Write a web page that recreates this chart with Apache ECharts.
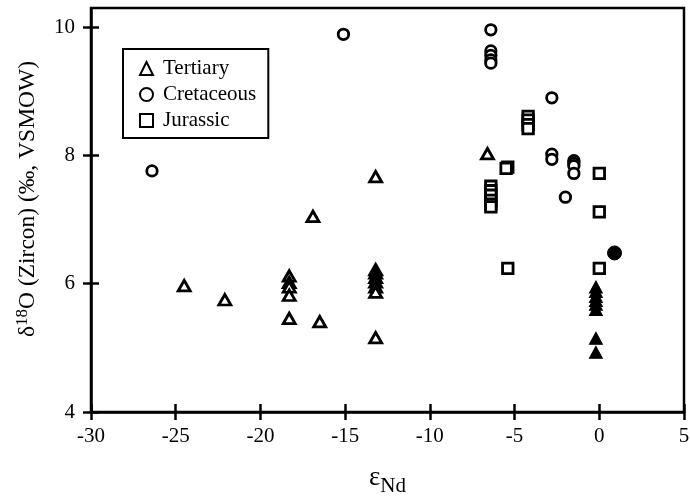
<!DOCTYPE html>
<html>
<head>
<meta charset="utf-8">
<script src="https://cdn.jsdelivr.net/npm/echarts@6/dist/echarts.min.js"></script>
<style>html,body{margin:0;padding:0;background:#fff;}#c{width:690px;height:497px;}</style>
</head>
<body>
<div id="c"></div>
<script>
// Data: [εNd, δ18O]
const tertiary = [
  [-24.5, 5.97], [-22.1, 5.75],
  [-18.3, 6.12], [-18.3, 6.02], [-18.3, 5.95], [-18.3, 5.82], [-18.3, 5.46],
  [-16.9, 7.05], [-16.5, 5.41],
  [-13.2, 7.67], [-13.2, 6.22], [-13.2, 6.17], [-13.2, 6.10], [-13.2, 6.03], [-13.2, 5.95], [-13.2, 5.87], [-13.2, 5.16],
  [-6.6, 8.03]
];
const cretaceous = [
  [-26.4, 7.76], [-15.1, 9.89],
  [-6.4, 9.96], [-6.4, 9.63], [-6.4, 9.56], [-6.4, 9.49], [-6.4, 9.44],
  [-2.8, 8.90], [-2.8, 8.02], [-2.8, 7.94],
  [-1.5, 7.92], [-1.5, 7.88], [-1.5, 7.84], [-1.5, 7.72],
  [-2.0, 7.35]
];
const jurassic = [
  [-6.4, 7.52], [-6.4, 7.45], [-6.4, 7.38], [-6.4, 7.30], [-6.4, 7.24], [-6.4, 7.20],
  [-5.4, 7.82], [-5.5, 7.80],
  [-4.2, 8.61], [-4.2, 8.55], [-4.2, 8.48], [-4.2, 8.42],
  [0, 7.72], [0, 7.12], [0, 6.24], [-5.4, 6.24]
];
const tertiaryFilled = [
  [-0.2, 5.95], [-0.2, 5.88], [-0.2, 5.80], [-0.2, 5.74], [-0.2, 5.68], [-0.2, 5.60],
  [-0.2, 5.15], [-0.2, 4.93]
];
const cretaceousFilled = [[0.9, 6.48]];
const seriesNames = ['Tertiary', 'Cretaceous', 'Jurassic'];
const xTicks = [-30, -25, -20, -15, -10, -5, 0, 5];
const yTicks = [4, 6, 8, 10];

const FONT = 'Liberation Serif';
const chart = echarts.init(document.getElementById('c'), null, {renderer: 'canvas'});

function openStyle() {
  return {color: '#fff', borderColor: '#000', borderWidth: 2.8, opacity: 1};
}
const filledStyle = {color: '#000', borderColor: '#000', borderWidth: 1, opacity: 1};

chart.setOption({
  animation: false,
  backgroundColor: '#fff',
  grid: {left: 91, right: 6, top: 8, bottom: 85, containLabel: false, outerBoundsMode: 'none',
         show: true, borderColor: '#000', borderWidth: 2.5, backgroundColor: 'transparent'},
  legend: {
    data: seriesNames,
    orient: 'vertical',
    left: 123, top: 49,
    padding: [9, 12, 7, 16],
    itemWidth: 13, itemHeight: 13, itemGap: 5,
    borderColor: '#000', borderWidth: 2, borderRadius: 0,
    backgroundColor: '#fff',
    textStyle: {fontFamily: FONT, fontSize: 21, color: '#000', lineHeight: 21, padding: [0, 0, 0, 5]},
    selectedMode: false
  },
  xAxis: [{
    type: 'value', min: -30, max: 5, interval: 5,
    position: 'bottom',
    axisLine: {show: true, onZero: false, lineStyle: {color: '#000', width: 2.5}},
    axisTick: {show: true, inside: false, length: 8, lineStyle: {color: '#000', width: 2.5}, customValues: xTicks},
    axisLabel: {fontFamily: FONT, fontSize: 21, color: '#000', margin: 14, customValues: xTicks},
    splitLine: {show: false},
    name: '{e|ε}{s|Nd}',
    nameLocation: 'middle', nameGap: 52,
    nameTextStyle: {
      rich: {
        e: {fontFamily: FONT, fontSize: 27, color: '#000', lineHeight: 33, verticalAlign: 'top'},
        s: {fontFamily: FONT, fontSize: 21, color: '#000', lineHeight: 22, verticalAlign: 'bottom'}
      }
    }
  }, {
    type: 'value', min: -30, max: 5, interval: 5,
    position: 'bottom',
    axisLine: {show: false, onZero: false},
    axisTick: {show: true, inside: true, length: 8, lineStyle: {color: '#000', width: 2.5}, customValues: xTicks},
    axisLabel: {show: false},
    splitLine: {show: false}
  }],
  yAxis: [{
    type: 'value', min: 4, max: 10.3, interval: 2,
    position: 'left',
    axisLine: {show: true, onZero: false, lineStyle: {color: '#000', width: 2.5}},
    axisTick: {show: true, inside: false, length: 8, lineStyle: {color: '#000', width: 2.5}, customValues: yTicks},
    axisLabel: {fontFamily: FONT, fontSize: 21, color: '#000', margin: 16, customValues: yTicks},
    splitLine: {show: false},
    name: '{d|δ}{u|18}{d|O (Zircon) (‰, VSMOW)}',
    nameLocation: 'middle', nameGap: 51, nameRotate: 90,
    nameTextStyle: {
      padding: [0, 0, 0, 22],
      rich: {
        d: {fontFamily: FONT, fontSize: 23.5, color: '#000', lineHeight: 26, verticalAlign: 'bottom'},
        u: {fontFamily: FONT, fontSize: 17, color: '#000', lineHeight: 26, verticalAlign: 'top'}
      }
    }
  }, {
    type: 'value', min: 4, max: 10.3, interval: 2,
    position: 'left',
    axisLine: {show: false, onZero: false},
    axisTick: {show: true, inside: true, length: 8, lineStyle: {color: '#000', width: 2.5}, customValues: yTicks},
    axisLabel: {show: false},
    splitLine: {show: false}
  }],
  series: [
    {name: 'Tertiary', type: 'scatter', data: tertiary, symbol: 'triangle', symbolSize: [12, 10.5], itemStyle: openStyle(), z: 3},
    {name: 'Cretaceous', type: 'scatter', data: cretaceous, symbol: 'circle', symbolSize: 10.5, itemStyle: openStyle(), z: 3},
    {name: 'Jurassic', type: 'scatter', data: jurassic, symbol: 'rect', symbolSize: 10.5, itemStyle: openStyle(), z: 3},
    {name: 'Tertiary (filled)', type: 'scatter', data: tertiaryFilled, symbol: 'triangle', symbolSize: [13, 12], itemStyle: filledStyle, z: 3},
    {name: 'Cretaceous (filled)', type: 'scatter', data: cretaceousFilled, symbol: 'circle', symbolSize: 14, itemStyle: filledStyle, z: 3}
  ]
});
</script>
</body>
</html>
